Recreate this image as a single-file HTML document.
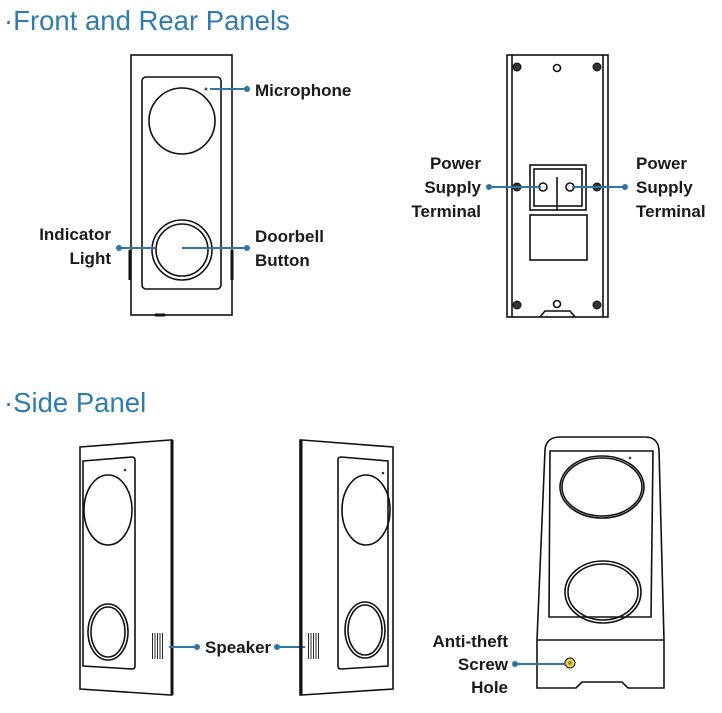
<!DOCTYPE html>
<html><head><meta charset="utf-8"><style>
html,body{margin:0;padding:0;background:#fff;}
svg{display:block}
.t{font-family:"Liberation Sans",sans-serif;fill:#2e7bb0;font-size:27.5px}
.l{font-family:"Liberation Sans Narrow","Liberation Sans",sans-serif;font-weight:bold;font-size:17px;fill:#1a1a1a}
.k{fill:none;stroke:#111;stroke-width:1.6}
.b{stroke:#2e75a8;stroke-width:2;fill:none}
.d{fill:#2e75a8}
</style></head><body>
<svg width="722" height="713" viewBox="0 0 722 713" xmlns="http://www.w3.org/2000/svg">
<text class="t" x="4" y="30">·Front and Rear Panels</text>
<text class="t" x="4" y="412">·Side Panel</text>

<!-- Front -->
<rect class="k" x="131" y="55" width="101" height="260"/>
<rect class="k" x="142" y="77" width="79" height="212" rx="4"/>
<circle class="k" cx="182" cy="121" r="33" stroke-width="2.4"/>
<circle class="k" cx="182" cy="250" r="30"/>
<circle class="k" cx="182" cy="250" r="26" stroke-width="2.2"/>
<line x1="130" y1="250" x2="130" y2="280" stroke="#111" stroke-width="3"/>
<line x1="232" y1="250" x2="232" y2="280" stroke="#111" stroke-width="3"/>
<line x1="155" y1="315" x2="165" y2="315" stroke="#111" stroke-width="3"/>
<circle cx="206" cy="89" r="1.5" fill="#555"/>
<line class="b" x1="210" y1="89" x2="247" y2="89"/><circle class="d" cx="247" cy="89" r="3"/>
<line class="b" x1="119" y1="248" x2="155" y2="248"/><circle class="d" cx="119" cy="248" r="3"/>
<line class="b" x1="182" y1="248" x2="247" y2="248"/><circle class="d" cx="247" cy="248" r="3"/>
<text class="l" x="255" y="96">Microphone</text>
<text class="l" x="111" y="240" text-anchor="end">Indicator</text>
<text class="l" x="111" y="264" text-anchor="end">Light</text>
<text class="l" x="255" y="242">Doorbell</text>
<text class="l" x="255" y="266">Button</text>

<!-- Rear -->
<rect class="k" x="507" y="55" width="101" height="262"/>
<line class="k" x1="512" y1="55" x2="512" y2="317"/>
<line class="k" x1="603" y1="55" x2="603" y2="317"/>
<g fill="#333" stroke="#111">
<circle cx="517" cy="67" r="4"/><circle cx="597" cy="67" r="4"/>
<circle cx="517" cy="187" r="4"/><circle cx="597" cy="187" r="4"/>
<circle cx="517" cy="305" r="4"/><circle cx="597" cy="305" r="4"/>
</g>
<circle class="k" cx="557" cy="68" r="3.5"/><circle class="k" cx="557" cy="304" r="3.5"/>
<path class="k" d="M540 317 L545 311 L570 311 L575 317"/>
<rect class="k" x="530" y="165" width="56" height="45"/>
<rect class="k" x="534" y="169" width="48" height="37"/>
<line class="k" x1="557" y1="177" x2="557" y2="210" stroke-width="2.5"/>
<circle class="k" cx="543" cy="187" r="4"/><circle class="k" cx="570" cy="187" r="4"/>
<rect class="k" x="530" y="215" width="57" height="45"/>
<line class="b" x1="489" y1="187" x2="541" y2="187"/><circle class="d" cx="489" cy="187" r="3"/>
<line class="b" x1="572" y1="187" x2="625" y2="187"/><circle class="d" cx="625" cy="187" r="3"/>
<text class="l" x="481" y="169" text-anchor="end">Power</text>
<text class="l" x="481" y="193" text-anchor="end">Supply</text>
<text class="l" x="481" y="217" text-anchor="end">Terminal</text>
<text class="l" x="636" y="169">Power</text>
<text class="l" x="636" y="193">Supply</text>
<text class="l" x="636" y="217">Terminal</text>

<!-- Side left -->
<path class="k" d="M80 447 L170 440 L172 440 L172 695 L170 695 L80 689 Z"/>
<line x1="172" y1="440" x2="172" y2="695" stroke="#111" stroke-width="3"/>
<path class="k" d="M83 461 L132 457 Q135 457 135 460 L135 666 Q135 669 132 669 L83 666 Z"/>
<circle cx="125" cy="470" r="1.3" fill="#333"/>
<ellipse class="k" cx="108" cy="510" rx="24" ry="35" stroke-width="2"/>
<ellipse class="k" cx="108" cy="632" rx="20" ry="28"/>
<ellipse class="k" cx="108" cy="632" rx="17" ry="25"/>
<g stroke="#111" stroke-width="0.9"><line x1="152.5" y1="633" x2="152.5" y2="659"/><line x1="155" y1="633" x2="155" y2="659"/><line x1="157.5" y1="633" x2="157.5" y2="659"/><line x1="160" y1="633" x2="160" y2="659"/><line x1="162.5" y1="633" x2="162.5" y2="659"/></g>
<line class="b" x1="169" y1="647" x2="197" y2="647"/><circle class="d" cx="197" cy="647" r="3"/>
<text class="l" x="205" y="653">Speaker</text>
<line class="b" x1="277" y1="647" x2="305" y2="647"/><circle class="d" cx="277" cy="647" r="3"/>

<!-- Side right -->
<path class="k" d="M300 440 L302 440 L393 447 L393 689 L302 695 L300 695 Z"/>
<line x1="301" y1="440" x2="301" y2="695" stroke="#111" stroke-width="3"/>
<path class="k" d="M341 457 L388 461 L388 666 L341 669 Q338 669 338 666 L338 460 Q338 457 341 457 Z"/>
<circle cx="383" cy="473" r="1.3" fill="#333"/>
<ellipse class="k" cx="366" cy="510" rx="24" ry="35" stroke-width="2"/>
<ellipse class="k" cx="365" cy="630" rx="20" ry="28"/>
<ellipse class="k" cx="365" cy="630" rx="17" ry="25"/>
<g stroke="#111" stroke-width="0.9"><line x1="308.5" y1="633" x2="308.5" y2="659"/><line x1="311" y1="633" x2="311" y2="659"/><line x1="313.5" y1="633" x2="313.5" y2="659"/><line x1="316" y1="633" x2="316" y2="659"/><line x1="318.5" y1="633" x2="318.5" y2="659"/></g>

<!-- Side third -->
<path class="k" d="M537 688 L537 640 L545 450 Q546 437 560 437 L645 437 Q658 437 659 450 L664 640 L664 688 L628 688 L622 682 L582 682 L576 688 Z"/>
<line class="k" x1="537" y1="640" x2="664" y2="640"/>
<path class="k" d="M550 451 L653 451 L651 617 L549 617 Z"/>
<circle cx="630" cy="458" r="1.3" fill="#333"/>
<ellipse class="k" cx="602" cy="487" rx="42" ry="31" stroke-width="2"/>
<ellipse class="k" cx="602" cy="487" rx="40" ry="29"/>
<ellipse class="k" cx="603" cy="592" rx="38" ry="31"/>
<ellipse class="k" cx="603" cy="592" rx="35" ry="28"/>
<circle cx="570" cy="663" r="5" fill="#e8d84a" stroke="#111"/>
<circle cx="570" cy="663" r="2" fill="#998a20"/>
<line class="b" x1="515" y1="664" x2="566" y2="664"/><circle class="d" cx="515" cy="664" r="3"/>
<text class="l" x="508" y="647" text-anchor="end">Anti-theft</text>
<text class="l" x="508" y="670" text-anchor="end">Screw</text>
<text class="l" x="508" y="693" text-anchor="end">Hole</text>
</svg>
</body></html>
